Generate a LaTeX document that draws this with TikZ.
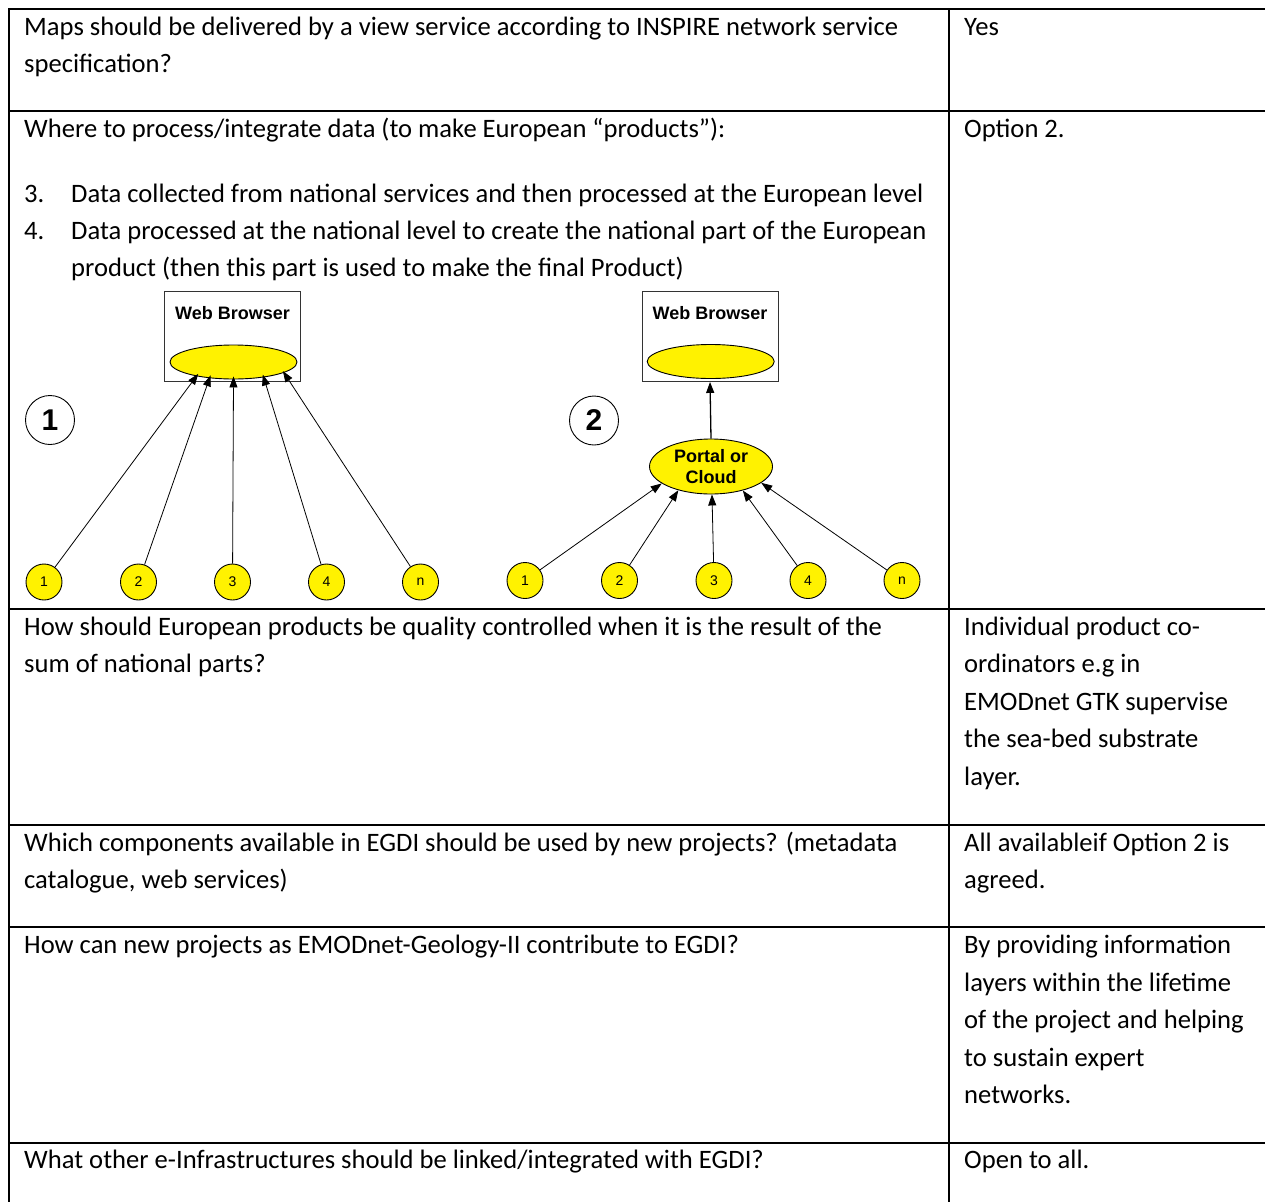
\documentclass[tikz,border=0pt]{standalone}
\usepackage{fontspec}
\setmainfont{Carlito}
\newfontfamily\arialf{Liberation Sans}
\usetikzlibrary{arrows.meta,shapes.geometric}
\begin{document}
\begin{tikzpicture}[x=1pt,y=-1pt,
  rule/.style={line width=2pt},
  txt/.style={anchor=base west,inner sep=0pt,font=\fontsize{26.6}{37}\selectfont},
  wbbox/.style={draw=black!80,line width=0.9pt,minimum width=136pt,minimum height=90pt,inner sep=0pt},
  wbtext/.style={inner sep=0pt,font=\arialf\bfseries\fontsize{18}{21}\selectfont},
  yell/.style={ellipse,draw,fill=yellow,line width=0.9pt,inner sep=0pt},
  src/.style={circle,draw,fill=yellow,line width=0.9pt,minimum size=36pt,inner sep=0pt,font=\arialf\fontsize{14}{16}\selectfont},
  optnum/.style={circle,draw,line width=0.9pt,minimum size=49pt,inner sep=0pt,font=\arialf\bfseries\fontsize{30}{32}\selectfont},
  conn/.style={line width=0.8pt,-{Triangle[length=11pt,width=8pt]}}]
\useasboundingbox (0,0) rectangle (1265,1202);
\fill[white] (0,0) rectangle (1265,1202);

% table rules
\draw[rule] (8,9) -- (1265,9);
\draw[rule] (8,110.5) -- (1265,110.5);
\draw[rule] (8,609) -- (1265,609);
\draw[rule] (8,824.5) -- (1265,824.5);
\draw[rule] (8,927) -- (1265,927);
\draw[rule] (8,1142.5) -- (1265,1142.5);
\draw[rule] (9,8) -- (9,1202);
\draw[rule] (949,8) -- (949,1202);

% row 1
\node[txt] (q1a) at (24,35) {Maps should be delivered by a view service according to INSPIRE network service};
\node[txt] (q1b) at (24,72) {specification?};
\node[txt] (a1a) at (964,35) {Yes};

% row 2
\node[txt] (q2a) at (24,137) {Where to process/integrate data (to make European “products”):};
\node[txt] (q2n3) at (24,202) {3.};
\node[txt] (q2b) at (71,202) {Data collected from national services and then processed at the European level};
\node[txt] (q2n4) at (24,239) {4.};
\node[txt] (q2c) at (71,239) {Data processed at the national level to create the national part of the European};
\node[txt] (q2d) at (71,276) {product (then this part is used to make the final Product)};
\node[txt] (a2a) at (964,137) {Option 2.};

% option 1: every source feeds the browser directly
\node[wbbox] (wb1) at (232.5,336) {};
\node[wbtext] (wbt1) at (232.5,313) {Web Browser};
\node[yell,minimum width=127pt,minimum height=34pt] (el1) at (233.5,362) {};
\node[optnum] (o1) at (50,420) {1};
\node[src] (s11) at (44,582) {1};
\node[src] (s12) at (138.5,582) {2};
\node[src] (s13) at (232.5,582) {3};
\node[src] (s14) at (326.5,582) {4};
\node[src] (s1n) at (420.5,582) {n};
\draw[conn,shorten >=-3pt] (s11) -- (el1.201);
\draw[conn,shorten >=-3pt] (s12) -- (el1.214);
\draw[conn,shorten >=-3pt] (s13) -- (el1.270);
\draw[conn,shorten >=-3pt] (s14) -- (el1.333);
\draw[conn,shorten >=-2pt] (s1n) -- (el1.348);

% option 2: sources feed a portal, the portal feeds the browser
\node[wbbox] (wb2) at (710,336.5) {};
\node[wbtext] (wbt2) at (710,313) {Web Browser};
\node[yell,minimum width=127pt,minimum height=34pt] (el2) at (710.7,361.5) {};
\node[optnum] (o2) at (594,420.5) {2};
\node[yell,minimum width=123pt,minimum height=55pt,align=center,font=\arialf\bfseries\fontsize{18}{21}\selectfont] (portal) at (711,466.5) {Portal or\\Cloud};
\node[src] (s21) at (525,580.5) {1};
\node[src] (s22) at (619.5,580.5) {2};
\node[src] (s23) at (714,580.5) {3};
\node[src] (s24) at (808,580.5) {4};
\node[src] (s2n) at (902,580.5) {n};
\draw[conn,line width=1.3pt] (portal.north) -- (wb2.south);
\draw[conn] (s21) -- (portal.199);
\draw[conn] (s22) -- (portal.216);
\draw[conn] (s23) -- (portal.272);
\draw[conn] (s24) -- (portal.323);
\draw[conn] (s2n) -- (portal.342);

% row 3
\node[txt] (q3a) at (24,635) {How should European products be quality controlled when it is the result of the};
\node[txt] (q3b) at (24,672) {sum of national parts?};
\node[txt] (a3a) at (964,635) {Individual product co-};
\node[txt] (a3b) at (964,672) {ordinators e.g in};
\node[txt] (a3c) at (964,710) {EMODnet GTK supervise};
\node[txt] (a3d) at (964,747) {the sea-bed substrate};
\node[txt] (a3e) at (964,785) {layer.};

% row 4
\node[txt] (q4a) at (24,851) {Which components available in EGDI should be used by new projects? (metadata};
\node[txt] (q4b) at (24,888) {catalogue, web services)};
\node[txt] (a4a) at (964,851) {All availableif Option 2 is};
\node[txt] (a4b) at (964,888) {agreed.};

% row 5
\node[txt] (q5a) at (24,953) {How can new projects as EMODnet-Geology-II contribute to EGDI?};
\node[txt] (a5a) at (964,953) {By providing information};
\node[txt] (a5b) at (964,991) {layers within the lifetime};
\node[txt] (a5c) at (964,1028) {of the project and helping};
\node[txt] (a5d) at (964,1066) {to sustain expert};
\node[txt] (a5e) at (964,1103) {networks.};

% row 6
\node[txt] (q6a) at (24,1168) {What other e-Infrastructures should be linked/integrated with EGDI?};
\node[txt] (a6a) at (964,1168) {Open to all.};
\end{tikzpicture}
\end{document}
